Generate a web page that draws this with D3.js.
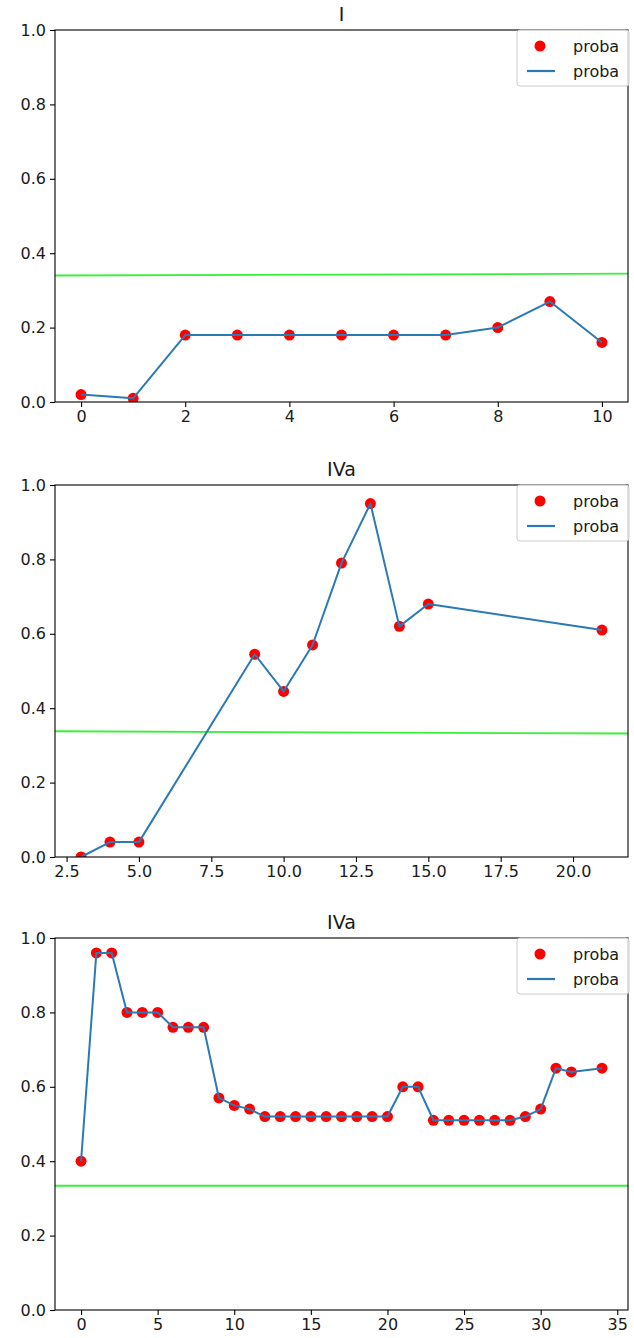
<!DOCTYPE html>
<html>
<head>
<meta charset="utf-8">
<script src="https://cdn.jsdelivr.net/npm/d3@7"></script>
<style>
  body { margin: 0; background: #fff; }
  svg { display: block; }
  text { font-family: "DejaVu Sans", sans-serif; fill: #1a1a1a; }
</style>
</head>
<body>
<svg id="chart" width="634" height="1338"></svg>
<script>
// ---- data ----
const titles = ["I", "IVa", "IVa"];

const x1 = [0, 1, 2, 3, 4, 5, 6, 7, 8, 9, 10];
const y1 = [0.02, 0.01, 0.18, 0.18, 0.18, 0.18, 0.18, 0.18, 0.20, 0.27, 0.16];
const green1 = [0.340, 0.345];
const xticks1 = [0, 2, 4, 6, 8, 10];

const x2 = [3, 4, 5, 9, 10, 11, 12, 13, 14, 15, 21];
const y2 = [0.0, 0.04, 0.04, 0.545, 0.445, 0.57, 0.79, 0.95, 0.62, 0.68, 0.61];
const green2 = [0.338, 0.332];
const xticks2 = [2.5, 5.0, 7.5, 10.0, 12.5, 15.0, 17.5, 20.0];

const x3 = [0, 1, 2, 3, 4, 5, 6, 7, 8, 9, 10, 11, 12, 13, 14, 15, 16, 17, 18, 19, 20,
            21, 22, 23, 24, 25, 26, 27, 28, 29, 30, 31, 32, 34];
const y3 = [0.40, 0.96, 0.96, 0.80, 0.80, 0.80, 0.76, 0.76, 0.76, 0.57, 0.55, 0.54, 0.52,
            0.52, 0.52, 0.52, 0.52, 0.52, 0.52, 0.52, 0.52, 0.60, 0.60, 0.51, 0.51, 0.51,
            0.51, 0.51, 0.51, 0.52, 0.54, 0.65, 0.64, 0.65];
const green3 = [0.334, 0.334];
const xticks3 = [0, 5, 10, 15, 20, 25, 30, 35];

const yticks = [0.0, 0.2, 0.4, 0.6, 0.8, 1.0];
const legendLabels = ["proba", "proba"];

// ---- layout ----
const svg = d3.select("#chart");
const left = 55, right = 628, plotH = 372;
const tops = [30, 485, 938];
const tickFont = 16;

const panels = [
  {title: titles[0], xs: x1, ys: y1, green: green1, xticks: xticks1, fmt: d3.format("d")},
  {title: titles[1], xs: x2, ys: y2, green: green2, xticks: xticks2, fmt: d3.format(".1f")},
  {title: titles[2], xs: x3, ys: y3, green: green3, xticks: xticks3, fmt: d3.format("d")}
];

panels.forEach((p, i) => {
  const top = tops[i], bottom = top + plotH;
  const [mn, mx] = d3.extent(p.xs);
  const pad = (mx - mn) * 0.05;
  const x = d3.scaleLinear().domain([mn - pad, mx + pad]).range([left, right]);
  const y = d3.scaleLinear().domain([0, 1]).range([bottom, top]);
  const g = svg.append("g");

  const clipId = "clip" + i;
  g.append("clipPath").attr("id", clipId)
    .append("rect").attr("x", left).attr("y", top).attr("width", right - left).attr("height", plotH);

  const plot = g.append("g").attr("clip-path", `url(#${clipId})`);

  // green reference line
  const d0 = x.domain();
  plot.append("line")
    .attr("x1", x(d0[0])).attr("x2", x(d0[1]))
    .attr("y1", y(p.green[0])).attr("y2", y(p.green[1]))
    .attr("stroke", "#22ee22").attr("stroke-opacity", 0.9).attr("stroke-width", 1.8);

  // red points
  plot.selectAll("circle.pt").data(p.xs.map((v, k) => [v, p.ys[k]]))
    .enter().append("circle").attr("class", "pt")
    .attr("cx", d => x(d[0])).attr("cy", d => y(d[1])).attr("r", 5.5)
    .attr("fill", "#ff0000");

  // blue line
  plot.append("path")
    .datum(p.xs.map((v, k) => [v, p.ys[k]]))
    .attr("d", d3.line().x(d => x(d[0])).y(d => y(d[1])))
    .attr("fill", "none").attr("stroke", "#2a7ab8").attr("stroke-width", 2)
    .attr("stroke-linejoin", "round");

  // axes
  const xAxis = d3.axisBottom(x).tickValues(p.xticks).tickFormat(p.fmt).tickSize(5).tickPadding(4);
  const yAxis = d3.axisLeft(y).tickValues(yticks).tickFormat(d3.format(".1f")).tickSize(5).tickPadding(4);
  const gx = g.append("g").attr("transform", `translate(0,${bottom})`).call(xAxis);
  const gy = g.append("g").attr("transform", `translate(${left},0)`).call(yAxis);
  [gx, gy].forEach(a => {
    a.select(".domain").remove();
    a.selectAll("line").attr("stroke", "#000").attr("stroke-width", 1.1);
    a.selectAll("text").attr("font-size", tickFont).attr("fill", "#1a1a1a")
      .attr("font-family", "DejaVu Sans, sans-serif");
  });

  // frame
  g.append("rect").attr("x", left).attr("y", top).attr("width", right - left).attr("height", plotH)
    .attr("fill", "none").attr("stroke", "#000").attr("stroke-width", 1.1);

  // title
  g.append("text").attr("x", (left + right) / 2).attr("y", top - 9)
    .attr("text-anchor", "middle").attr("font-size", 19).text(p.title);

  // legend
  const lw = 112, lh = 56;
  const lx = right - lw + 1, ly = top;
  const lg = g.append("g");
  lg.append("rect").attr("x", lx).attr("y", ly).attr("width", lw).attr("height", lh)
    .attr("rx", 3).attr("fill", "#fff").attr("fill-opacity", 0.8)
    .attr("stroke", "#cccccc").attr("stroke-width", 1);
  lg.append("circle").attr("cx", lx + 23).attr("cy", ly + 16).attr("r", 5.5).attr("fill", "#ff0000");
  lg.append("line").attr("x1", lx + 10).attr("x2", lx + 38).attr("y1", ly + 41).attr("y2", ly + 41)
    .attr("stroke", "#2a7ab8").attr("stroke-width", 2.2);
  legendLabels.forEach((lab, k) => {
    lg.append("text").attr("x", lx + 56).attr("y", ly + 16 + k * 25).attr("dy", "0.35em")
      .attr("font-size", tickFont).text(lab);
  });
});
</script>
</body>
</html>
